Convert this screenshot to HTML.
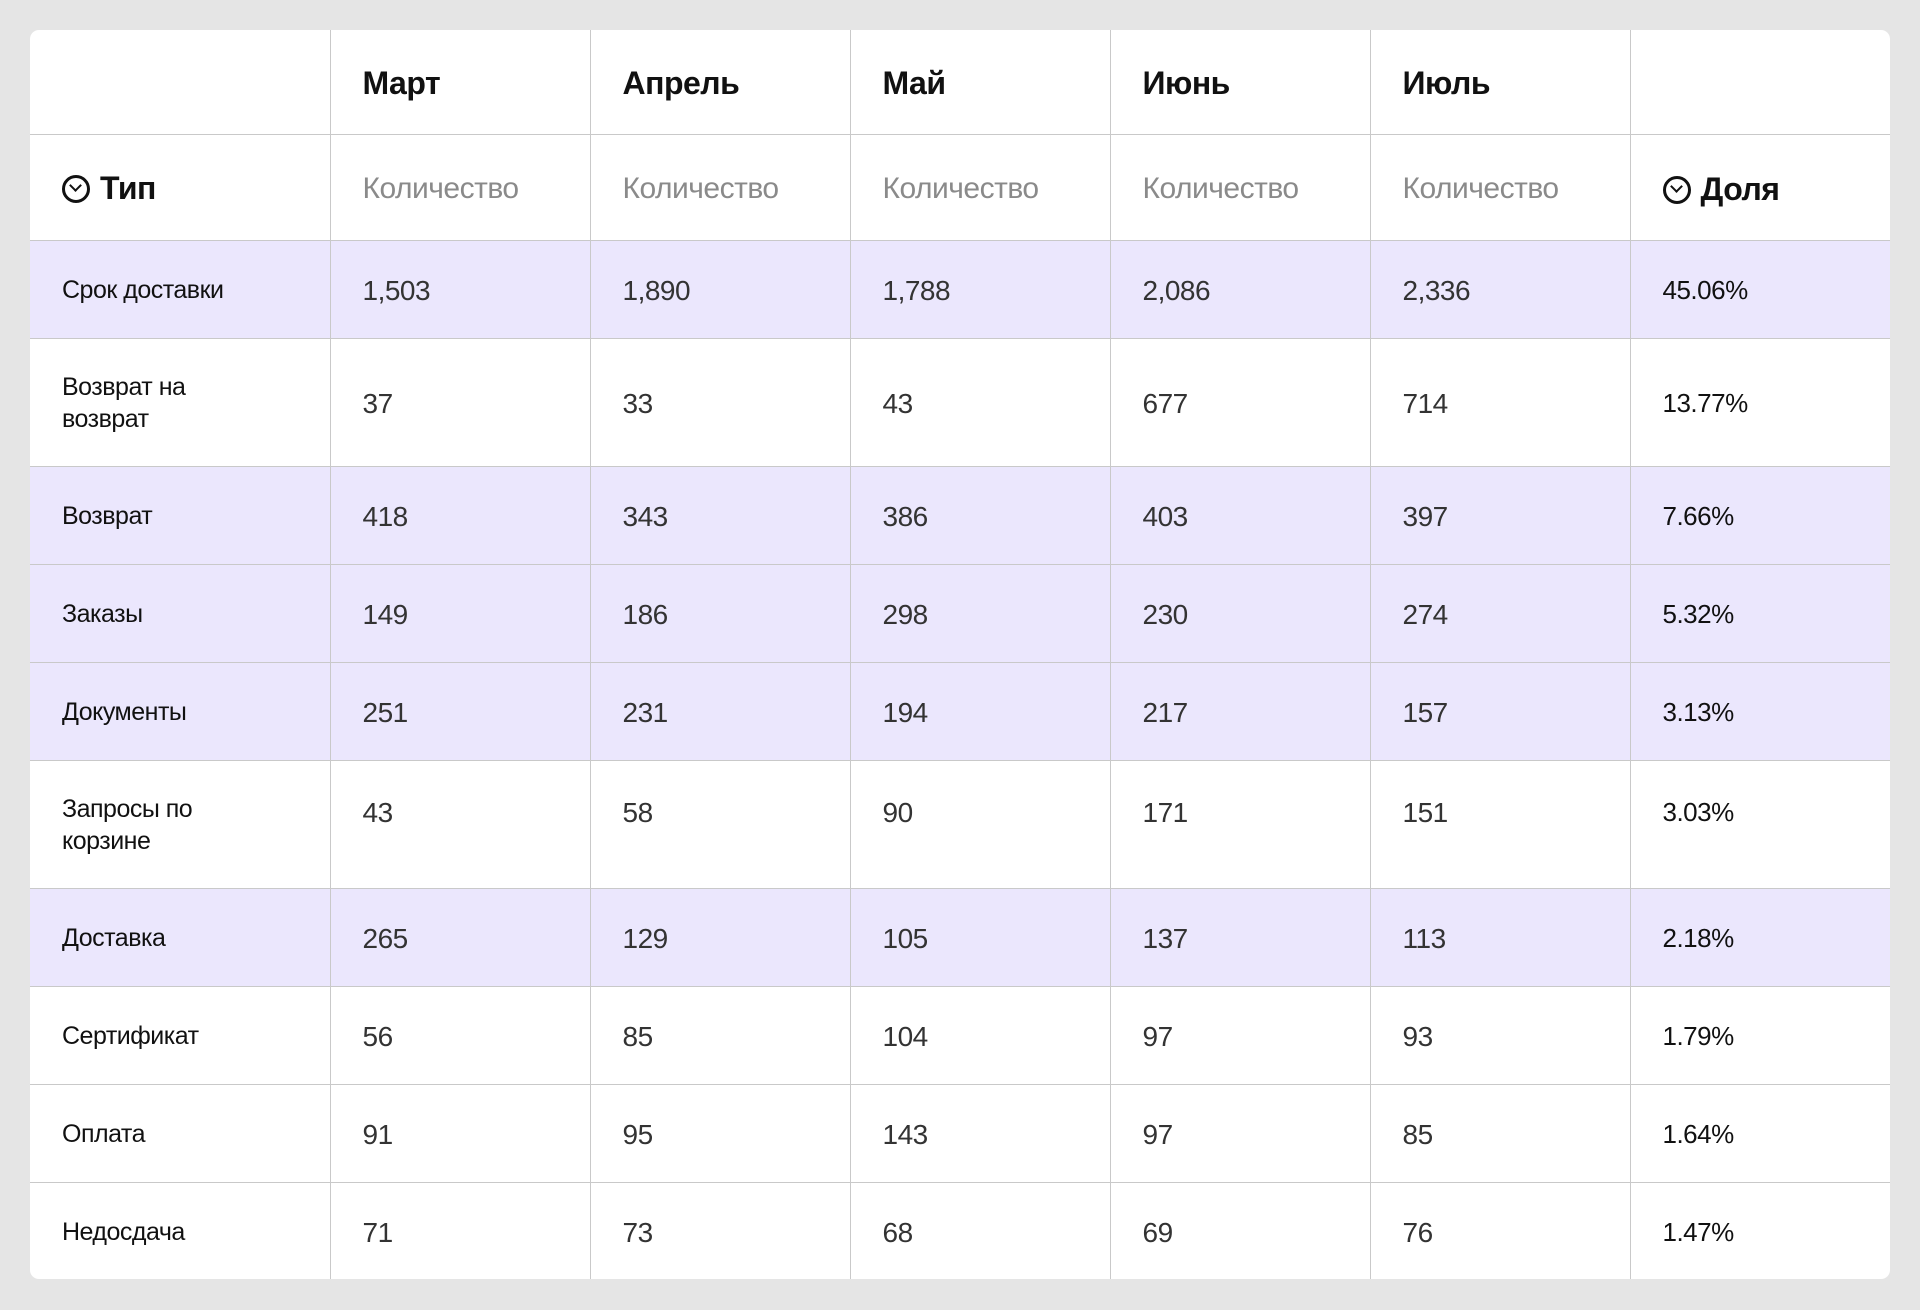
<!DOCTYPE html>
<html><head><meta charset="utf-8"><style>
html,body{margin:0;padding:0;background:#e5e5e5;width:1920px;height:1310px;overflow:hidden}
.card{position:absolute;left:30px;top:30px;width:1860px;height:1249px;background:#fff;border-radius:9px;overflow:hidden}
table{border-collapse:collapse;table-layout:fixed;width:1860px;font-family:"Liberation Sans",sans-serif}
td{border-left:1px solid #c9c9c9;border-top:1px solid #c9c9c9;padding:4px 0 0 32px;vertical-align:middle;color:#333;font-size:28px;letter-spacing:-0.5px;white-space:nowrap;box-sizing:border-box}
td:first-child{border-left:none;color:#111;font-size:25px;white-space:normal;line-height:32px;padding-right:60px;padding-top:2px}
tr:first-child td{border-top:none}
td.p{color:#111;font-size:26px;padding-top:2px}
.h1 td{font-weight:bold;color:#111;font-size:32px;height:104px}
.h2 td{color:#8a8a8a;font-size:30px;height:106px}
.h2 td.b{font-weight:bold;color:#111;font-size:32px}
tr.r td{height:98px}
tr.t td{height:128px}
tr.l td{background:#ebe7fd}
.ic{display:inline-block;width:28px;height:28px;border:3px solid #111;border-radius:50%;box-sizing:border-box;vertical-align:-4px;margin-right:10px;position:relative}
.ic:after{content:"";position:absolute;left:6px;top:3px;width:7px;height:7px;border-right:2.5px solid #111;border-bottom:2.5px solid #111;transform:rotate(45deg)}
tr.q td.n{vertical-align:top;padding-top:36px}
</style></head><body><div class="card"><table>
<colgroup><col style="width:300px"><col style="width:260px"><col style="width:260px"><col style="width:260px"><col style="width:260px"><col style="width:260px"><col style="width:260px"></colgroup>
<tr class="h1"><td></td><td>Март</td><td>Апрель</td><td>Май</td><td>Июнь</td><td>Июль</td><td></td></tr>
<tr class="h2"><td class="b" style="font-size:32px;font-weight:bold"><span class="ic"></span>Тип</td><td>Количество</td><td>Количество</td><td>Количество</td><td>Количество</td><td>Количество</td><td class="b"><span class="ic"></span>Доля</td></tr>
<tr class="r l"><td>Срок доставки</td><td>1,503</td><td>1,890</td><td>1,788</td><td>2,086</td><td>2,336</td><td class="p">45.06%</td></tr>
<tr class="t"><td>Возврат на возврат</td><td>37</td><td>33</td><td>43</td><td>677</td><td>714</td><td class="p">13.77%</td></tr>
<tr class="r l"><td>Возврат</td><td>418</td><td>343</td><td>386</td><td>403</td><td>397</td><td class="p">7.66%</td></tr>
<tr class="r l"><td>Заказы</td><td>149</td><td>186</td><td>298</td><td>230</td><td>274</td><td class="p">5.32%</td></tr>
<tr class="r l"><td>Документы</td><td>251</td><td>231</td><td>194</td><td>217</td><td>157</td><td class="p">3.13%</td></tr>
<tr class="t q"><td>Запросы по корзине</td><td class="n">43</td><td class="n">58</td><td class="n">90</td><td class="n">171</td><td class="n">151</td><td class="p n">3.03%</td></tr>
<tr class="r l"><td>Доставка</td><td>265</td><td>129</td><td>105</td><td>137</td><td>113</td><td class="p">2.18%</td></tr>
<tr class="r"><td>Сертификат</td><td>56</td><td>85</td><td>104</td><td>97</td><td>93</td><td class="p">1.79%</td></tr>
<tr class="r"><td>Оплата</td><td>91</td><td>95</td><td>143</td><td>97</td><td>85</td><td class="p">1.64%</td></tr>
<tr class="r"><td>Недосдача</td><td>71</td><td>73</td><td>68</td><td>69</td><td>76</td><td class="p">1.47%</td></tr>
</table></div></body></html>
